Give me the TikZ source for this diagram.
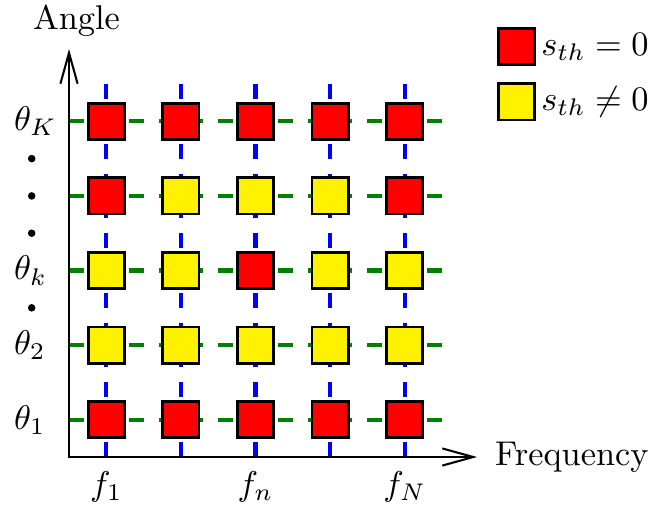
\documentclass[tikz,border=0pt]{standalone}
\usetikzlibrary{arrows.meta, positioning}
\usepackage{amsmath}
\definecolor{gridgreen}{RGB}{0,128,0}

\begin{document}
\begin{tikzpicture}[x=0.763cm, y=0.763cm,
        >={Straight Barb[length=9pt,width=5pt]},
        sq/.style={draw=black, thick, minimum size=0.37cm, inner sep=0pt},
        zero/.style={sq, fill=red},
        nonzero/.style={sq, fill=yellow},
        vline/.style={blue, very thick, dash pattern=on 1.526mm off 1.526mm},
        hline/.style={gridgreen, very thick, dash pattern=on 1.526mm off 1.526mm}]
      \useasboundingbox (-0.925,-0.657) rectangle (7.788,6.126);
      % grid lines
      \foreach \i in {0.5,1.5,...,4.5} {
        \draw[vline] (\i,0) -- (\i,5);
        \draw[hline] (0,\i) -- (5,\i);
      }
      % axes
      \draw[semithick, <->] (0,5.47) -- (0,0) -- (5.47,0);
      \node (angle) at (0.1,5.85) {Angle};
      \node[right] (freq) at (5.55,0) {Frequency};
      % cells
      \node[zero]    (c15) at (0.5,4.5) {}; \node[zero]    (c25) at (1.5,4.5) {};
      \node[zero]    (c35) at (2.5,4.5) {}; \node[zero]    (c45) at (3.5,4.5) {};
      \node[zero]    (c55) at (4.5,4.5) {};
      \node[zero]    (c14) at (0.5,3.5) {}; \node[nonzero] (c24) at (1.5,3.5) {};
      \node[nonzero] (c34) at (2.5,3.5) {}; \node[nonzero] (c44) at (3.5,3.5) {};
      \node[zero]    (c54) at (4.5,3.5) {};
      \node[nonzero] (c13) at (0.5,2.5) {}; \node[nonzero] (c23) at (1.5,2.5) {};
      \node[zero]    (c33) at (2.5,2.5) {}; \node[nonzero] (c43) at (3.5,2.5) {};
      \node[nonzero] (c53) at (4.5,2.5) {};
      \node[nonzero] (c12) at (0.5,1.5) {}; \node[nonzero] (c22) at (1.5,1.5) {};
      \node[nonzero] (c32) at (2.5,1.5) {}; \node[nonzero] (c42) at (3.5,1.5) {};
      \node[nonzero] (c52) at (4.5,1.5) {};
      \node[zero]    (c11) at (0.5,0.5) {}; \node[zero]    (c21) at (1.5,0.5) {};
      \node[zero]    (c31) at (2.5,0.5) {}; \node[zero]    (c41) at (3.5,0.5) {};
      \node[zero]    (c51) at (4.5,0.5) {};
      % angle labels
      \node[anchor=west] (thK) at (-0.9,4.5) {$\theta_K$};
      \node[anchor=west] (thk) at (-0.9,2.5) {$\theta_k$};
      \node[anchor=west] (th2) at (-0.9,1.5) {$\theta_2$};
      \node[anchor=west] (th1) at (-0.9,0.5) {$\theta_1$};
      \foreach \y in {2,3,3.5,4}
        \fill (-0.5,\y) circle (1.1pt);
      % frequency labels
      \node (f1) at (0.5,-0.4) {$f_1$};
      \node (fn) at (2.5,-0.4) {$f_n$};
      \node (fN) at (4.5,-0.4) {$f_N$};
      % legend
      \node[zero]    (legzero)    at (6,5.5)  {};
      \node[nonzero] (legnonzero) at (6,4.76) {};
      \node[right=-2pt of legzero]    (txtzero)    {$s_{th}=0$};
      \node[right=-2pt of legnonzero] (txtnonzero) {$s_{th}\neq 0$};
    \end{tikzpicture}
\end{document}
